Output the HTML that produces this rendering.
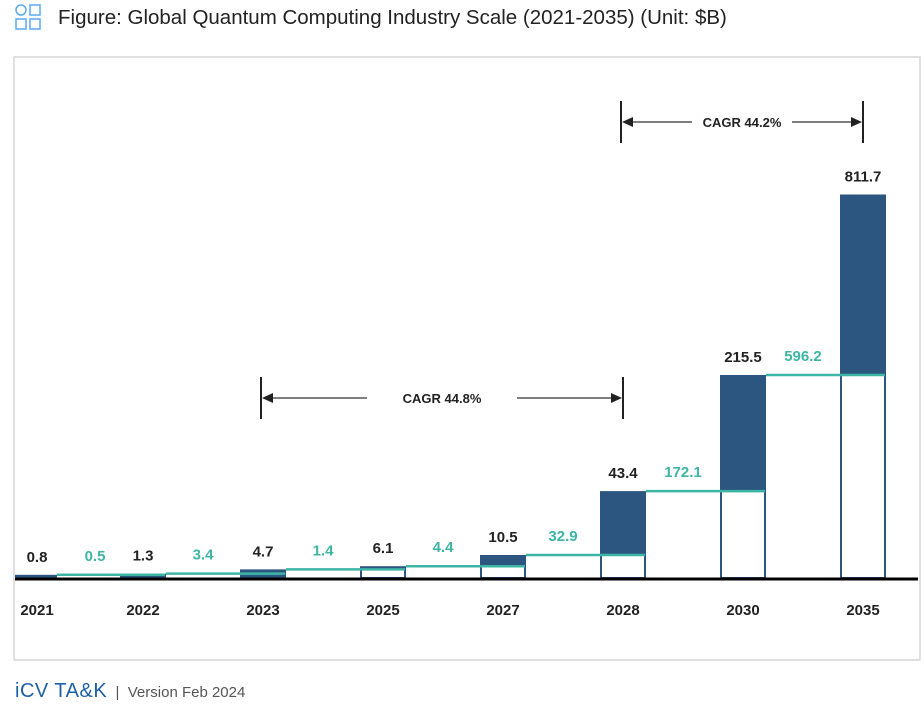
<!DOCTYPE html>
<html><head><meta charset="utf-8"><style>
body{margin:0;width:924px;height:720px;background:#fff;font-family:"Liberation Sans",sans-serif;position:relative;overflow:hidden}
.t{position:absolute;left:58px;top:6px;font-size:20.5px;color:#222}
.f{position:absolute;left:15px;top:680px;font-size:15px;color:#555}
.f b{color:#1f5fa8;font-size:20px;font-weight:normal;letter-spacing:0.5px}
</style></head><body>
<svg style="position:absolute;left:15px;top:3px" width="30" height="28">
<circle cx="6" cy="7" r="5" fill="none" stroke="#5aa9f0" stroke-width="1.5"/>
<rect x="15" y="2" width="10" height="10" fill="none" stroke="#5aa9f0" stroke-width="1.5"/>
<rect x="1" y="16" width="10" height="10" fill="none" stroke="#5aa9f0" stroke-width="1.5"/>
<rect x="15" y="16" width="10" height="10" fill="none" stroke="#5aa9f0" stroke-width="1.5"/>
</svg>
<div class="t">Figure: Global Quantum Computing Industry Scale (2021-2035) (Unit: $B)</div>
<svg id="c" style="position:absolute;left:0;top:0" width="924" height="670"></svg>
<div class="f"><b>iCV TA&amp;K</b> &nbsp;|&nbsp; Version Feb 2024</div>
<script>
const years=["2021","2022","2023","2025","2027","2028","2030","2035"];
const totals=[0.8,1.3,4.7,6.1,10.5,43.4,215.5,811.7];
const increments=["0.5","3.4","1.4","4.4","32.9","172.1","596.2"];
const cagrs=[{from:2,to:5,label:"CAGR 44.8%"},{from:5,to:7,label:"CAGR 44.2%"}];
const NS="http://www.w3.org/2000/svg",svg=document.getElementById('c');
const base=578;
const dK=[0,1,5,10.5,45,220,820],rK=[0,4,9,23,90,206,386];
function y(v){for(let i=1;i<dK.length;i++){if(v<=dK[i]||i==dK.length-1){return base-(rK[i-1]+(v-dK[i-1])/(dK[i]-dK[i-1])*(rK[i]-rK[i-1]));}}}
function cx(i){return 23+120*i;}
const bw=46;
function el(t,a,txt){const e=document.createElementNS(NS,t);for(const k in a)e.setAttribute(k,a[k]);if(txt!=null)e.textContent=txt;svg.appendChild(e);return e;}
let fr=el('rect',{x:14,y:57,width:906,height:603,fill:'none',stroke:'#d6d6d6','stroke-width':1.5});


years.forEach((yr,i)=>{
  const x0=i==0?15:cx(i)-bw/2,x1=i==0?57:cx(i)+bw/2;
  const prev=i>0?totals[i-1]:0;
  const yt=y(totals[i]),yp=y(prev);
  const full=i<3;
  if(!full){
    let w=el('rect',{x:x0+1,y:yp,width:x1-x0-2,height:base-yp,fill:'#fff',stroke:'#2c5680','stroke-width':2});
    
    
  }
  let b=el('rect',{x:x0,y:yt,width:x1-x0,height:(full?base:yp)-yt,fill:'#2c5680'});
  
  
  const lx=i==0?37:cx(i);
  let tl=el('text',{x:lx,y:yt-13,'text-anchor':'middle','font-size':15,'font-weight':'bold',fill:'#222'},String(totals[i]));
  
  
  let xl=el('text',{x:lx,y:615,'text-anchor':'middle','font-size':15,'font-weight':'bold',fill:'#222'},yr);
  
  
  if(i>0){
    const ly=y(totals[i-1]);
    const sx=i==1?57:cx(i-1)+bw/2;
    let ln=el('line',{x1:sx,x2:x1-1,y1:ly,y2:ly,stroke:'#3db5a5','stroke-width':2.5});
    
    
    let il=el('text',{x:(cx(i-1)+cx(i))/2+(i==1?12:0),y:ly-14,'text-anchor':'middle','font-size':15,'font-weight':'bold',fill:'#3db5a5'},increments[i-1]);
    
    
  }
});
let ax=el('line',{x1:15,x2:918,y1:base+1,y2:base+1,stroke:'#000','stroke-width':3});


const cy=[398,122];
cagrs.forEach((c,k)=>{
  const a=cx(c.from)-2,b=cx(c.to),yy=cy[k],m=(a+b)/2;
  const g=[];
  g.push(el('line',{x1:a,x2:a,y1:yy-21,y2:yy+21,stroke:'#222','stroke-width':2}));
  g.push(el('line',{x1:b,x2:b,y1:yy-21,y2:yy+21,stroke:'#222','stroke-width':2}));
  g.push(el('line',{x1:a+10,x2:m-(k?50:75),y1:yy,y2:yy,stroke:'#333','stroke-width':1.3}));
  g.push(el('line',{x1:m+(k?50:75),x2:b-10,y1:yy,y2:yy,stroke:'#333','stroke-width':1.3}));
  g.push(el('polygon',{points:`${a+1},${yy} ${a+12},${yy-5} ${a+12},${yy+5}`,fill:'#222'}));
  g.push(el('polygon',{points:`${b-1},${yy} ${b-12},${yy-5} ${b-12},${yy+5}`,fill:'#222'}));
  let t=el('text',{x:m,y:yy+5,'text-anchor':'middle','font-size':13,'font-weight':'bold',fill:'#222'},c.label);
  
  
  g.forEach(e=>{
  });
});
</script>
</body></html>
